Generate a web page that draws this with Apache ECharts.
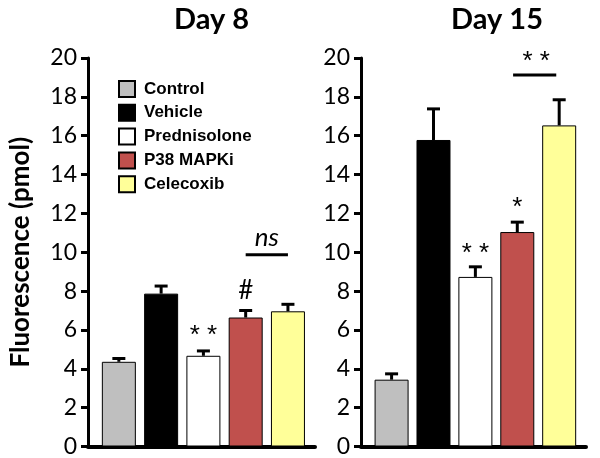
<!DOCTYPE html>
<html>
<head>
<meta charset="utf-8">
<script src="https://cdn.jsdelivr.net/npm/echarts@6/dist/echarts.min.js"></script>
<style>html,body{margin:0;padding:0;background:#fff;}#c{width:600px;height:458px;}</style>
</head>
<body>
<div id="c"></div>
<script>
const categories = ['Control', 'Vehicle', 'Prednisolone', 'P38 MAPKi', 'Celecoxib'];
const panelTitles = ['Day 8', 'Day 15'];
const day8Mean = [4.36, 7.87, 4.67, 6.64, 6.96];
const day8Sem = [0.17, 0.39, 0.25, 0.36, 0.36];
const day15Mean = [3.44, 15.78, 8.73, 11.04, 16.53];
const day15Sem = [0.30, 1.60, 0.52, 0.51, 1.32];
const yTicks = [0, 2, 4, 6, 8, 10, 12, 14, 16, 18, 20];
const day8Marks = [[3, 5.98, '**'], [4, 8.0, '#'], [4.5, 10.75, 'ns']];
const day8Brackets = [[4, 5, 9.87]];
const day15Marks = [[3, 10.2, '**'], [4, 12.56, '*'], [4.45, 20.05, '**']];
const day15Brackets = [[3.9, 4.93, 19.13]];

const barColors = ['#bfbfbf', '#000000', '#ffffff', '#c0504d', '#ffff99'];

const chart = echarts.init(document.getElementById('c'));

function errRender(params, api) {
  const x = api.value(0), m = api.value(1), e = api.value(2);
  const p0 = api.coord([x, m]);
  const p1 = api.coord([x, m + e]);
  const half = 6.5;
  return {
    type: 'group',
    children: [
      { type: 'line', shape: { x1: p0[0], y1: p0[1], x2: p1[0], y2: p1[1] }, style: { stroke: '#000', lineWidth: 3 } },
      { type: 'line', shape: { x1: p1[0] - half, y1: p1[1], x2: p1[0] + half, y2: p1[1] }, style: { stroke: '#000', lineWidth: 3 } }
    ]
  };
}

function markRender(marks) {
  return function (params, api) {
    const m = marks[params.dataIndex];
    const p = api.coord([m[0], m[1]]);
    const isNs = m[2] === 'ns';
    const isStar = m[2].indexOf('*') >= 0;
    let font = '26px Lato';
    if (isNs) font = 'italic 26px Lato';
    if (isStar) font = '26px "Liberation Sans"';
    return {
      type: 'text',
      x: p[0], y: p[1] + (isStar ? 5 : 0),
      style: {
        text: isStar ? m[2].split('').join(' ') : m[2], align: 'center', verticalAlign: 'middle',
        font: font, fill: '#000'
      }
    };
  };
}

function bracketRender(br) {
  return function (params, api) {
    const b = br[params.dataIndex];
    const a = api.coord([b[0], b[2]]);
    const c = api.coord([b[1], b[2]]);
    return { type: 'line', shape: { x1: a[0], y1: a[1], x2: c[0], y2: c[1] }, style: { stroke: '#000', lineWidth: 3 } };
  };
}

const panels = [
  { mean: day8Mean, sem: day8Sem, marks: day8Marks, brackets: day8Brackets },
  { mean: day15Mean, sem: day15Sem, marks: day15Marks, brackets: day15Brackets }
];

const series = [];
panels.forEach((p, g) => {
  categories.forEach((name, i) => {
    series.push({
      name: name, type: 'bar', xAxisIndex: g, yAxisIndex: g,
      barWidth: 34, barGap: '-100%',
      itemStyle: { color: barColors[i], borderColor: '#000', borderWidth: 1 },
      data: [[i + 1, p.mean[i]]],
      silent: true
    });
  });
  series.push({
    type: 'custom', xAxisIndex: g, yAxisIndex: g, z: 5, silent: true,
    renderItem: errRender,
    data: categories.map((c, i) => [i + 1, p.mean[i], p.sem[i]])
  });
  series.push({
    type: 'custom', xAxisIndex: g, yAxisIndex: g, z: 5, silent: true,
    renderItem: markRender(p.marks),
    data: p.marks.map(m => [m[0], m[1]])
  });
  series.push({
    type: 'custom', xAxisIndex: g, yAxisIndex: g, z: 5, silent: true,
    renderItem: bracketRender(p.brackets),
    data: p.brackets.map(b => [b[0], b[2]])
  });
});

function yAxis(idx, withName) {
  return {
    type: 'value', gridIndex: idx, min: yTicks[0], max: yTicks[yTicks.length - 1], interval: 2,
    name: withName ? 'Fluorescence (pmol)' : '',
    nameLocation: 'middle', nameGap: 54, nameRotate: 90,
    nameTextStyle: { fontFamily: 'Lato', fontWeight: 'bold', fontSize: 26, color: '#000' },
    axisLine: { show: true, lineStyle: { color: '#000', width: 3 } },
    axisTick: { show: true, length: 7, lineStyle: { color: '#000', width: 3 } },
    axisLabel: { fontFamily: 'Lato', fontSize: 23, color: '#000', margin: 11 },
    splitLine: { show: false }
  };
}
function xAxis(idx) {
  return {
    type: 'value', gridIndex: idx, min: 0.27, max: 5.64,
    axisLine: { show: true, onZero: false, lineStyle: { color: '#000', width: 4 } },
    axisTick: { show: false }, axisLabel: { show: false }, splitLine: { show: false }
  };
}

chart.setOption({
  animation: false,
  title: [
    { text: panelTitles[0], left: 169, top: 0, textStyle: { fontFamily: 'Lato', fontWeight: 'bold', fontSize: 29, color: '#000' } },
    { text: panelTitles[1], left: 446, top: 0, textStyle: { fontFamily: 'Lato', fontWeight: 'bold', fontSize: 29, color: '#000' } }
  ],
  legend: {
    data: categories, orient: 'vertical', left: 113, top: 75,
    itemWidth: 16, itemHeight: 16, itemGap: 5.8, icon: 'rect',
    selectedMode: false,
    textStyle: { fontFamily: 'Liberation Sans', fontWeight: 'bold', fontSize: 17, color: '#000', lineHeight: 16, padding: [0, 0, 0, 4] }
  },
  grid: [
    { left: 88, top: 58, width: 227, height: 389 },
    { left: 361, top: 58, width: 225, height: 390 }
  ],
  xAxis: [xAxis(0), xAxis(1)],
  yAxis: [yAxis(0, true), yAxis(1, false)],
  series: series
});
</script>
</body>
</html>
